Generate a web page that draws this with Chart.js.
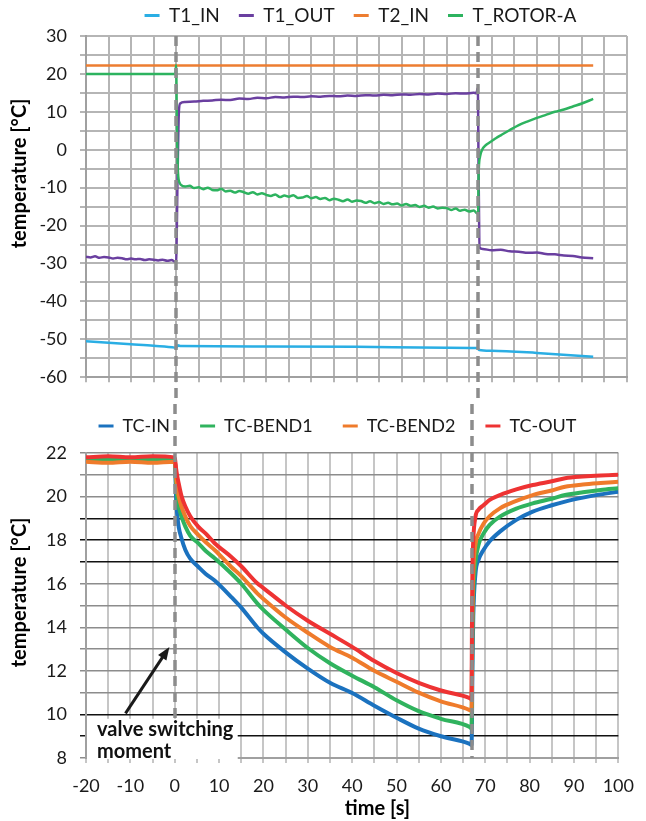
<!DOCTYPE html>
<html>
<head>
<meta charset="utf-8">
<script src="https://cdn.jsdelivr.net/npm/chart.js@4.4.0/dist/chart.umd.min.js"></script>
<style>
  html, body { margin: 0; background: #fff; overflow: hidden; }
  body { position: relative; width: 646px; height: 821px; }
  canvas { position: absolute; left: 0; }
  #topChart { top: -13px; }
  #bottomChart { top: 387px; }
</style>
</head>
<body>
<canvas id="topChart" width="646" height="414"></canvas>
<canvas id="bottomChart" width="646" height="434"></canvas>
<script>
// ---- top chart data (temperatures in °C vs time in s) ----
const t1InTime = [-20, -10, -5, -0.3, 0, 0.4, 1, 20, 40, 60, 66.8, 67.2, 70, 80, 92.5];
const t1InTemp = [-50.5, -51.3, -51.7, -52.2, -52.3, -51.6, -51.8, -51.9, -52.0, -52.2, -52.3, -52.8, -53.0, -53.6, -54.6];

const t1OutTime = [-20, -19, -18, -17, -16, -15, -14, -13, -12, -11, -10, -9, -8, -7, -6, -5, -4, -3, -2, -1, -0.3, 0,
  0.3, 0.6, 0.9, 2, 4, 6, 8, 10, 12, 14, 16, 18, 20, 22, 24, 26, 28, 30, 32, 34, 36, 38, 40, 42, 44, 46, 48, 50,
  52, 54, 56, 58, 60, 62, 64, 66, 66.6, 66.9, 67.1, 67.3, 68, 70, 72, 74, 76, 78, 80, 82, 84, 86, 88, 90, 92.5];
const t1OutTemp = [-28.2, -28.4, -28.1, -28.5, -28.3, -28.4, -28.7, -28.5, -28.6, -28.9, -28.7, -28.9, -28.8, -29.1, -28.9, -29.0, -29.2, -29.0, -29.3, -29.1, -29.5, -29.3,
  -8, 10, 12.2, 12.6, 12.7, 12.9, 13.0, 13.2, 13.1, 13.5, 13.4, 13.7, 13.6, 13.9, 13.8, 14.0, 13.9, 14.1, 14.0, 14.2, 14.1, 14.3, 14.2, 14.4, 14.3, 14.5, 14.4, 14.6,
  14.5, 14.7, 14.6, 14.8, 14.7, 14.9, 14.8, 15.0, 14.9, 16.3, -8, -25.8, -26.2, -26.5, -26.4, -26.8, -26.9, -27.2, -27.1, -27.5, -27.6, -27.9, -28.0, -28.4, -28.6];

const t2InTime = [-20, 92.5];
const t2InTemp = [22.2, 22.2];

const rotorTime = [-20, -0.2, 0, 0.15, 0.4, 0.8, 1, 2, 3, 4, 5, 6, 7, 8, 9, 10, 11, 12, 13, 14, 15, 16, 17, 18, 19, 20,
  21, 22, 23, 24, 25, 26, 27, 28, 29, 30, 31, 32, 33, 34, 35, 36, 37, 38, 39, 40, 41, 42, 43, 44, 45, 46, 47, 48, 49, 50,
  51, 52, 53, 54, 55, 56, 57, 58, 59, 60, 61, 62, 63, 64, 65, 66, 66.8, 67, 67.05, 67.15, 67.4, 68, 68.5, 69, 70, 71, 72, 74, 76,
  78, 80, 82, 84, 86, 88, 90, 92.5];
const rotorTemp = [20.0, 20.0, 22.3, 8, -6, -8.8, -9.2, -9.7, -9.5, -10.1, -9.9, -10.4, -10.0, -10.6, -10.7, -10.3, -11.0, -10.8, -11.3, -10.9, -11.2, -11.6, -11.2, -11.8, -11.5, -11.9,
  -12.2, -11.8, -12.5, -12.1, -12.4, -12.0, -12.7, -12.6, -12.2, -12.8, -12.5, -13.0, -12.7, -13.3, -12.9, -13.2, -13.6, -13.1, -13.7, -13.4, -13.5, -14.0, -13.6, -14.1, -13.8, -14.3, -14.0, -14.4, -14.2, -14.7,
  -14.3, -14.8, -14.6, -15.1, -14.8, -15.3, -15.0, -15.5, -15.3, -15.4, -15.9, -15.5, -16.1, -15.8, -16.3, -16.0, -16.8, -16.4, -9, -4.5, -1.8, 0.3, 1.0, 1.5, 2.3, 3.1, 3.8, 5.2, 6.5,
  7.5, 8.4, 9.2, 10.0, 10.6, 11.4, 12.2, 13.4];

// ---- bottom chart data ----
const tcTime = [-20, -15, -10, -5, -0.1, 0.1, 0.3, 0.6, 0.9, 1.5, 2.4, 3.5, 5.3, 7, 9, 12.7, 15, 18.6, 20, 25,
  30, 35, 40, 45, 50, 55, 60, 66.5, 66.9, 67.0, 67.1, 67.3, 67.8, 68.5, 69.6, 71, 73.3, 77, 80.7, 85, 88, 92, 96, 100];
const tcIn = [21.75, 21.7, 21.75, 21.7, 21.75, 21.4, 20.0, 19.1, 18.6, 18.1, 17.55, 17.15, 16.78, 16.45, 16.15, 15.4, 14.9, 14.0, 13.7, 12.85,
  12.1, 11.45, 10.98, 10.4, 9.85, 9.35, 9.0, 8.65, 8.6, 9.5, 12.0, 14.5, 16.48, 17.1, 17.55, 17.95, 18.39, 18.93, 19.31, 19.6, 19.77, 19.95, 20.1, 20.22];
const tcBend1 = [21.65, 21.7, 21.65, 21.7, 21.65, 21.5, 20.6, 19.9, 19.54, 19.1, 18.62, 18.2, 17.86, 17.5, 17.17, 16.48, 16.0, 15.1, 14.8, 13.9,
  13.05, 12.35, 11.78, 11.25, 10.65, 10.15, 9.8, 9.42, 9.35, 11.0, 13.5, 15.5, 17.0, 17.8, 18.3, 18.7, 19.08, 19.45, 19.69, 19.9, 20.07, 20.2, 20.3, 20.38];
const tcBend2 = [21.6, 21.55, 21.6, 21.55, 21.6, 21.5, 20.9, 20.35, 20.0, 19.55, 19.08, 18.65, 18.24, 17.9, 17.55, 16.78, 16.35, 15.56, 15.3, 14.45,
  13.75, 13.1, 12.6, 12.0, 11.5, 11.0, 10.6, 10.2, 10.15, 12.0, 14.5, 16.5, 17.8, 18.3, 18.75, 19.1, 19.46, 19.8, 20.07, 20.28, 20.45, 20.55, 20.62, 20.68];
const tcOut = [21.8, 21.85, 21.8, 21.85, 21.8, 21.68, 21.3, 20.9, 20.6, 20.05, 19.54, 19.1, 18.62, 18.3, 17.86, 17.24, 16.8, 16.02, 15.8, 15.0,
  14.3, 13.7, 13.1, 12.45, 11.9, 11.45, 11.1, 10.75, 10.7, 14.0, 16.5, 18.0, 19.08, 19.4, 19.6, 19.85, 20.07, 20.33, 20.53, 20.7, 20.84, 20.92, 20.97, 21.0];

// valve switching moments [s]
const switchTimes = [0, 66.9];

Chart.defaults.font.family = 'Lato';
Chart.defaults.color = '#1a1a1a';

function pts(times, vals) {
  return times.map((t, i) => ({x: t, y: vals[i]}));
}

function line(label, color, times, vals, width, order) {
  return {
    label, data: pts(times, vals),
    borderColor: color, backgroundColor: color,
    borderWidth: width, pointRadius: 0,
    cubicInterpolationMode: 'monotone', order
  };
}

// fixed legend height (and optional sideways nudge) to line up with the reference
const legendHeight = {
  id: 'legendHeight',
  afterInit(chart, args, opts) {
    const legend = chart.legend;
    const fit = legend.fit.bind(legend);
    const draw = legend.draw.bind(legend);
    legend.fit = function () { fit(); this.height = opts.height; };
    legend.draw = function () {
      chart.ctx.save();
      chart.ctx.translate(opts.shift || 0, 0);
      draw();
      chart.ctx.restore();
    };
  }
};

// grey dashed lines at the valve switching moments
const switchLines = {
  id: 'switchLines',
  afterDatasetsDraw(chart, args, o) {
    const {ctx, chartArea: a, scales: {x}} = chart;
    const y0 = o.fromY != null ? o.fromY : a.top;
    const y1 = o.toBottom ? chart.height : a.bottom;
    ctx.save();
    ctx.strokeStyle = '#8c8c8c';
    ctx.lineWidth = 3.5;
    ctx.setLineDash([10, 6]);
    ctx.lineDashOffset = o.dashOffset || 0;
    switchTimes.forEach(t => {
      const px = Math.round(x.getPixelForValue(t));
      ctx.beginPath();
      ctx.moveTo(px, y0);
      ctx.lineTo(px, y1);
      ctx.stroke();
    });
    ctx.restore();
  }
};

// axis titles placed like the Excel original
const axisTitles = {
  id: 'axisTitles',
  afterDraw(chart, args, o) {
    const {ctx, chartArea: a, scales: {x, y}} = chart;
    ctx.save();
    ctx.font = 'bold 20px Lato';
    ctx.fillStyle = '#000';
    ctx.textAlign = 'center';
    ctx.textBaseline = 'middle';
    if (o.y) {
      ctx.save();
      ctx.translate(o.y.left, y.getPixelForValue(o.y.at));
      ctx.rotate(-Math.PI / 2);
      ctx.fillText(o.y.text, 0, 0);
      ctx.restore();
    }
    if (o.x) {
      ctx.fillText(o.x.text, x.getPixelForValue(o.x.at), a.bottom + o.x.below);
    }
    ctx.restore();
  }
};

// "valve switching moment" box with arrow
const valveNote = {
  id: 'valveNote',
  afterDraw(chart, args, o) {
    const {ctx, chartArea: a, scales: {x, y}} = chart;
    ctx.save();
    const bx = a.left + 1;
    const by = y.getPixelForValue(o.boxTop);
    ctx.fillStyle = '#fff';
    ctx.fillRect(bx, by, x.getPixelForValue(o.boxRight) - bx, a.bottom + 1 - by);
    ctx.fillStyle = '#111';
    ctx.font = 'bold 20px Lato';
    ctx.textAlign = 'left';
    ctx.textBaseline = 'alphabetic';
    ctx.fillText('valve switching', bx + 10, a.bottom - 22);
    ctx.fillText('moment', bx + 10, a.bottom);
    // arrow
    const x0 = x.getPixelForValue(o.from[0]), y0 = y.getPixelForValue(o.from[1]);
    const x1 = x.getPixelForValue(o.to[0]), y1 = y.getPixelForValue(o.to[1]);
    const ang = Math.atan2(y1 - y0, x1 - x0);
    ctx.strokeStyle = '#1a1a1a';
    ctx.lineWidth = 3;
    ctx.beginPath();
    ctx.moveTo(x0, y0);
    ctx.lineTo(x1 - 9 * Math.cos(ang), y1 - 9 * Math.sin(ang));
    ctx.stroke();
    ctx.beginPath();
    ctx.moveTo(x1, y1);
    ctx.lineTo(x1 - 13 * Math.cos(ang) + 5 * Math.sin(ang), y1 - 13 * Math.sin(ang) - 5 * Math.cos(ang));
    ctx.lineTo(x1 - 13 * Math.cos(ang) - 5 * Math.sin(ang), y1 - 13 * Math.sin(ang) + 5 * Math.cos(ang));
    ctx.closePath();
    ctx.fillStyle = '#1a1a1a';
    ctx.fill();
    ctx.restore();
  }
};

function legendOpts(height, gap, size, fullSize, shift) {
  return {
    legend: {
      position: 'top',
      fullSize,
      labels: {
        font: {size},
        color: '#1a1a1a',
        boxWidth: 15,
        boxHeight: 3,
        padding: gap,
        sort: (a, b) => a.datasetIndex - b.datasetIndex,
        generateLabels: chart => Chart.defaults.plugins.legend.labels.generateLabels(chart)
          .map(l => Object.assign(l, {lineWidth: 0}))
      }
    },
    legendHeight: {height, shift},
    tooltip: {enabled: false}
  };
}

// ---- top chart ----
new Chart(document.getElementById('topChart'), {
  type: 'line',
  data: {
    datasets: [
      line('T1_IN', '#2aaee4', t1InTime, t1InTemp, 2.5, 4),
      line('T1_OUT', '#6a3fa0', t1OutTime, t1OutTemp, 2.5, 3),
      line('T2_IN', '#ed7d31', t2InTime, t2InTemp, 2.5, 2),
      line('T_ROTOR-A', '#2db35f', rotorTime, rotorTemp, 2.5, 1)
    ]
  },
  plugins: [legendHeight, switchLines, axisTitles],
  options: {
    responsive: false,
    animation: false,
    devicePixelRatio: 1,
    events: [],
    layout: {padding: {top: 0, right: 19, bottom: 0, left: 0}},
    scales: {
      x: {
        type: 'linear', min: -20, max: 100,
        afterFit: s => { s.height = 5; },
        grid: {color: '#b5b5b5', lineWidth: 2, tickLength: 5},
        border: {color: '#a0a0a0', width: 2},
        ticks: {stepSize: 5, autoSkip: false, maxRotation: 0, callback: () => ''}
      },
      y: {
        min: -60, max: 30,
        afterFit: s => { s.width = 86; },
        grid: {color: '#b5b5b5', lineWidth: 2, tickLength: 6},
        border: {color: '#a0a0a0', width: 2},
        ticks: {stepSize: 5, autoSkip: false, padding: 13, font: {size: 18},
          callback: v => (v % 10 === 0 ? v : '')}
      }
    },
    plugins: Object.assign(legendOpts(49, 19, 19, false, 4), {
      switchLines: {toBottom: true, dashOffset: 0},
      axisTitles: {y: {text: 'temperature [°C]', at: -6.25, left: 20}}
    })
  }
});

// ---- bottom chart ----
const darkRows = [9, 10, 17, 18, 19];

new Chart(document.getElementById('bottomChart'), {
  type: 'line',
  data: {
    datasets: [
      line('TC-IN', '#1b72bf', tcTime, tcIn, 4, 4),
      line('TC-BEND1', '#30b35e', tcTime, tcBend1, 4, 3),
      line('TC-BEND2', '#ef7b2b', tcTime, tcBend2, 4, 2),
      line('TC-OUT', '#ee3333', tcTime, tcOut, 4, 1)
    ]
  },
  plugins: [legendHeight, switchLines, axisTitles, valveNote],
  options: {
    responsive: false,
    animation: false,
    devicePixelRatio: 1,
    events: [],
    layout: {padding: {top: 0, right: 19, bottom: 0, left: 0}},
    scales: {
      x: {
        type: 'linear', min: -20, max: 100,
        afterFit: s => { s.height = 63; },
        grid: {color: '#c6c6c6', lineWidth: 2, tickLength: 5},
        border: {color: '#a0a0a0', width: 2},
        ticks: {stepSize: 5, autoSkip: false, maxRotation: 0, padding: 12, font: {size: 18},
          callback: v => (v % 10 === 0 ? v : '')}
      },
      y: {
        min: 8, max: 22,
        afterFit: s => { s.width = 86; },
        grid: {
          color: c => (darkRows.includes(c.tick && c.tick.value) ? '#111' : '#8c8c8c'),
          lineWidth: 1.5, tickLength: 6
        },
        border: {color: '#a0a0a0', width: 2},
        ticks: {stepSize: 1, autoSkip: false, padding: 13, font: {size: 18},
          callback: v => (v % 2 === 0 ? v : '')}
      }
    },
    plugins: Object.assign(legendOpts(66, 30, 18, true, 24), {
      switchLines: {fromY: 14, toBottom: false, dashOffset: 13},
      axisTitles: {
        y: {text: 'temperature [°C]', at: 15.6, left: 20},
        x: {text: 'time [s]', at: 45.7, below: 51}
      },
      valveNote: {boxTop: 9.8, boxRight: 14.2, from: [-11.1, 10.05], to: [-1.2, 13.1]}
    })
  }
});
</script>
</body>
</html>
